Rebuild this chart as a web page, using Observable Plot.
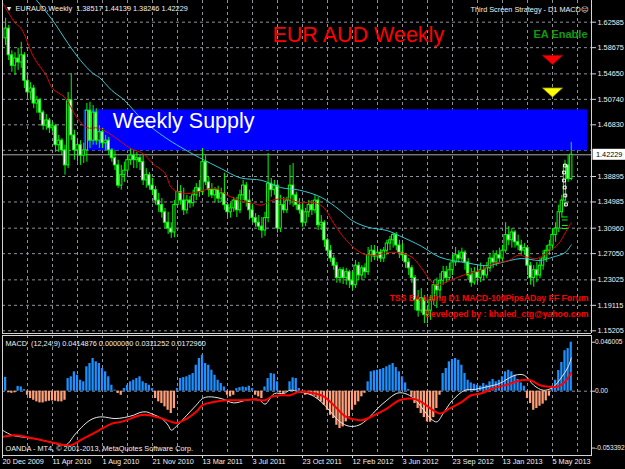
<!DOCTYPE html>
<html>
<head>
<meta charset="utf-8">
<script src="https://cdn.jsdelivr.net/npm/d3@7"></script>
<script src="https://cdn.jsdelivr.net/npm/@observablehq/plot@0.6"></script>
<style>
html,body{margin:0;padding:0;background:#000;}
#wrap{position:relative;width:625px;height:469px;background:#000;overflow:hidden;}
#wrap > svg{position:absolute;left:0;display:block;}
#wrap text{white-space:pre;}
</style>
</head>
<body>
<div id="wrap"></div>
<script>
// ---------- DATA (EURAUD weekly, bar 1 = 27 Dec 2009 ... bar 182 = 16 Jun 2013) ----------
const open = [
1.601,1.616,1.575,1.559,1.570,1.564,1.575,1.536,1.518,1.524,
1.501,1.506,1.487,1.467,1.475,1.463,1.466,1.437,1.444,1.429,
1.406,1.506,1.452,1.429,1.437,1.421,1.429,1.490,1.444,1.487,
1.444,1.457,1.440,1.444,1.429,1.417,1.406,1.375,1.391,1.398,
1.414,1.421,1.414,1.417,1.411,1.383,1.391,1.375,1.368,1.352,
1.345,1.334,1.318,1.309,1.303,1.345,1.365,1.352,1.337,1.352,
1.348,1.360,1.371,1.365,1.411,1.380,1.368,1.360,1.368,1.355,
1.363,1.345,1.334,1.340,1.352,1.337,1.360,1.375,1.352,1.337,
1.325,1.318,1.312,1.306,1.325,1.378,1.368,1.375,1.309,1.345,
1.337,1.352,1.375,1.360,1.345,1.337,1.318,1.334,1.345,1.337,
1.352,1.314,1.318,1.291,1.275,1.263,1.252,1.233,1.245,1.233,
1.242,1.229,1.222,1.252,1.237,1.248,1.242,1.268,1.275,1.266,
1.272,1.263,1.275,1.286,1.291,1.299,1.283,1.272,1.268,1.257,
1.248,1.233,1.199,1.183,1.202,1.176,1.183,1.199,1.222,1.214,
1.229,1.242,1.233,1.245,1.257,1.268,1.263,1.272,1.257,1.237,
1.226,1.242,1.233,1.245,1.237,1.248,1.263,1.257,1.268,1.263,
1.275,1.299,1.291,1.303,1.288,1.283,1.275,1.279,1.252,1.233,
1.245,1.237,1.252,1.263,1.275,1.283,1.299,1.309,1.334,1.352,
1.406,1.38517];
const high = [
1.632,1.621,1.582,1.579,1.586,1.595,1.579,1.544,1.533,1.529,
1.512,1.509,1.490,1.484,1.478,1.472,1.469,1.452,1.447,1.437,
1.518,1.547,1.460,1.444,1.444,1.440,1.501,1.503,1.498,1.493,
1.467,1.463,1.452,1.449,1.432,1.429,1.414,1.406,1.411,1.421,
1.432,1.429,1.426,1.421,1.421,1.401,1.395,1.386,1.374,1.363,
1.355,1.340,1.334,1.318,1.352,1.378,1.375,1.371,1.360,1.358,
1.368,1.378,1.383,1.432,1.421,1.388,1.378,1.372,1.374,1.371,
1.394,1.349,1.348,1.357,1.357,1.368,1.383,1.380,1.368,1.345,
1.332,1.329,1.326,1.334,1.424,1.386,1.383,1.378,1.360,1.357,
1.357,1.406,1.409,1.365,1.355,1.348,1.340,1.352,1.352,1.360,
1.357,1.329,1.321,1.294,1.283,1.268,1.257,1.249,1.249,1.248,
1.245,1.242,1.260,1.257,1.252,1.255,1.280,1.283,1.283,1.280,
1.277,1.280,1.291,1.297,1.302,1.303,1.291,1.286,1.271,1.263,
1.252,1.237,1.214,1.217,1.206,1.191,1.206,1.229,1.233,1.240,
1.251,1.251,1.256,1.268,1.280,1.275,1.279,1.275,1.263,1.248,
1.249,1.251,1.256,1.252,1.257,1.271,1.275,1.275,1.279,1.283,
1.318,1.312,1.309,1.306,1.299,1.291,1.286,1.283,1.257,1.252,
1.257,1.263,1.275,1.283,1.291,1.309,1.318,1.345,1.360,1.414,
1.421,1.44139];
const low = [
1.590,1.567,1.549,1.544,1.552,1.555,1.524,1.510,1.506,1.493,
1.486,1.475,1.460,1.460,1.455,1.457,1.426,1.426,1.421,1.391,
1.401,1.444,1.414,1.411,1.406,1.409,1.411,1.432,1.437,1.437,
1.432,1.432,1.429,1.421,1.411,1.398,1.371,1.368,1.380,1.391,
1.406,1.401,1.401,1.398,1.375,1.371,1.368,1.360,1.345,1.334,
1.325,1.309,1.300,1.294,1.295,1.340,1.345,1.329,1.331,1.340,
1.342,1.352,1.357,1.360,1.375,1.357,1.355,1.348,1.348,1.349,
1.337,1.325,1.325,1.334,1.326,1.332,1.352,1.342,1.322,1.318,
1.311,1.306,1.294,1.297,1.318,1.357,1.360,1.302,1.303,1.332,
1.332,1.345,1.342,1.337,1.331,1.311,1.312,1.326,1.329,1.332,
1.306,1.306,1.280,1.266,1.257,1.245,1.225,1.225,1.223,1.222,
1.217,1.214,1.217,1.229,1.229,1.232,1.237,1.257,1.260,1.260,
1.257,1.257,1.268,1.275,1.279,1.275,1.263,1.260,1.248,1.237,
1.225,1.183,1.173,1.179,1.163,1.163,1.168,1.191,1.186,1.202,
1.222,1.225,1.229,1.237,1.251,1.256,1.257,1.245,1.229,1.219,
1.222,1.226,1.226,1.229,1.232,1.242,1.248,1.251,1.256,1.257,
1.271,1.283,1.279,1.279,1.275,1.268,1.268,1.237,1.222,1.219,
1.226,1.232,1.245,1.257,1.268,1.275,1.288,1.303,1.325,1.342,
1.380,1.38246];
const close = [
1.616,1.575,1.559,1.570,1.564,1.575,1.536,1.518,1.524,1.501,
1.506,1.487,1.467,1.475,1.463,1.466,1.437,1.444,1.429,1.406,
1.506,1.452,1.429,1.437,1.421,1.429,1.490,1.444,1.487,1.444,
1.457,1.440,1.444,1.429,1.417,1.406,1.375,1.391,1.398,1.414,
1.421,1.414,1.417,1.411,1.383,1.391,1.375,1.368,1.352,1.345,
1.334,1.318,1.309,1.303,1.345,1.365,1.352,1.337,1.352,1.348,
1.360,1.371,1.365,1.411,1.380,1.368,1.360,1.368,1.355,1.363,
1.345,1.334,1.340,1.352,1.337,1.360,1.375,1.352,1.337,1.325,
1.318,1.312,1.306,1.325,1.378,1.368,1.375,1.309,1.345,1.337,
1.352,1.375,1.360,1.345,1.337,1.318,1.334,1.345,1.337,1.352,
1.314,1.318,1.291,1.275,1.263,1.252,1.233,1.245,1.233,1.242,
1.229,1.222,1.252,1.237,1.248,1.242,1.268,1.275,1.266,1.272,
1.263,1.275,1.286,1.291,1.299,1.283,1.272,1.268,1.257,1.248,
1.233,1.199,1.183,1.202,1.176,1.183,1.199,1.222,1.214,1.229,
1.242,1.233,1.245,1.257,1.268,1.263,1.272,1.257,1.237,1.226,
1.242,1.233,1.245,1.237,1.248,1.263,1.257,1.268,1.263,1.275,
1.299,1.291,1.303,1.288,1.283,1.275,1.279,1.252,1.233,1.245,
1.237,1.252,1.263,1.275,1.283,1.299,1.309,1.334,1.352,1.406,
1.385,1.42229];

// moving averages: [bar, price]
const maFast = [[0,1.656],[4,1.625],[6,1.616],[10,1.572],[14,1.544],[16,1.524],[20,1.510],[24,1.478],[27,1.464],[31,1.463],[36,1.449],[41,1.432],[45,1.424],[48,1.409],[52,1.394],[54,1.372],[57,1.364],[60,1.363],[63,1.366],[68,1.371],[72,1.360],[76,1.352],[80,1.348],[83,1.345],[86,1.352],[91,1.355],[95,1.349],[100,1.349],[103,1.340],[106,1.317],[110,1.291],[115,1.271],[119,1.268],[123,1.272],[127,1.272],[131,1.265],[134,1.249],[137,1.229],[139,1.222],[143,1.229],[149,1.240],[153,1.245],[157,1.255],[162,1.260],[165,1.268],[168,1.265],[171,1.263],[174,1.271],[178,1.286],[180,1.302],[182,1.318]];
const maSlow = [[1,1.720],[11,1.659],[16,1.629],[21,1.593],[25,1.567],[29,1.547],[31,1.541],[35,1.521],[39,1.506],[45,1.475],[52,1.449],[57,1.434],[63,1.418],[70,1.401],[76,1.387],[83,1.383],[89,1.372],[95,1.368],[102,1.357],[108,1.337],[112,1.321],[117,1.311],[123,1.306],[127,1.298],[134,1.282],[140,1.265],[149,1.256],[155,1.252],[159,1.256],[166,1.263],[172,1.260],[176,1.265],[180,1.272],[182,1.284]];

// MACD histogram per bar (bar 1..182)
const macdHist = [
0.013,-0.0015,-0.002,-0.0015,0.0045,0.004,0.0015,-0.0038,-0.0069,-0.0085,
-0.010,-0.011,-0.011,-0.010,-0.0094,-0.0091,-0.0094,-0.010,-0.010,-0.0085,
0.0119,0.0135,0.0182,0.015,0.0103,0.0088,0.0229,0.026,0.0307,0.0276,
0.026,0.0213,0.0182,0.0135,0.0056,0.001,-0.0022,-0.0038,0.0025,0.0056,
0.0088,0.0103,0.0119,0.0135,0.0088,0.0072,0.0056,0.0025,-0.0069,-0.010,
-0.0116,-0.0147,-0.0179,-0.021,-0.0163,0.0025,0.0119,0.0128,0.0135,0.015,
0.0166,0.0244,0.0307,0.0338,0.026,0.0244,0.0197,0.015,0.0103,0.0072,
0.004,-0.0038,-0.0053,-0.0038,0.0025,0.0034,0.004,0.0034,0.0047,0.0025,
-0.0038,-0.0053,-0.0069,0.004,0.0119,0.0166,0.016,0.0088,-0.0016,-0.0022,
-0.0006,0.0088,0.0125,0.0119,0.0025,-0.0022,-0.0038,-0.0028,-0.0038,-0.0047,
-0.0075,-0.010,-0.0132,-0.0179,-0.0226,-0.0257,-0.032,-0.0351,-0.0335,-0.0288,
-0.0241,-0.0179,-0.0132,-0.010,-0.0053,-0.002,0.0088,0.0182,0.0191,0.0197,
0.0204,0.0213,0.0229,0.0244,0.026,0.0222,0.0182,0.0135,0.0078,0.0016,
-0.0053,-0.0116,-0.0163,-0.021,-0.0248,-0.0288,-0.0291,-0.0248,-0.0163,-0.0038,
0.0166,0.0213,0.0276,0.0298,0.0307,0.0291,0.0244,0.0166,0.0103,0.0078,
0.0066,0.0056,0.0047,0.0072,0.0056,0.0088,0.011,0.0088,0.0103,0.0135,
0.0182,0.0197,0.0182,0.015,0.011,0.0078,0.0047,-0.0069,-0.0116,-0.0179,
-0.0163,-0.0141,-0.0122,-0.0091,-0.0047,0.0047,0.0103,0.0194,0.027,0.038,
0.040,0.046];
const macdMain = [[0,-0.0366],[3,-0.0413],[6,-0.0429],[10,-0.0444],[15,-0.0476],[20,-0.0507],[21,-0.0491],[23,-0.0413],[26,-0.0319],[28,-0.0272],[30,-0.0247],[32,-0.0241],[36,-0.0257],[39,-0.0247],[42,-0.0225],[44,-0.020],[46,-0.0194],[48,-0.0216],[51,-0.0257],[53,-0.0319],[54,-0.0366],[56,-0.0319],[59,-0.0225],[62,-0.0131],[64,-0.0069],[66,-0.0053],[70,-0.0069],[74,-0.011],[78,-0.0085],[82,-0.0078],[84,-0.0122],[87,-0.0022],[90,-0.0022],[92,0.0009],[95,-0.0006],[99,-0.0038],[102,-0.010],[105,-0.0194],[108,-0.0288],[111,-0.0329],[114,-0.0319],[117,-0.0257],[120,-0.0163],[123,-0.0085],[126,-0.0022],[128,-0.0016],[131,-0.0053],[134,-0.0147],[137,-0.0257],[139,-0.0288],[141,-0.021],[144,-0.0085],[148,0.0009],[151,0.0016],[155,0.0041],[159,0.0072],[164,0.015],[167,0.015],[170,0.0056],[173,0.0009],[176,0.0034],[179,0.0135],[181,0.0228],[182,0.0311]];
const macdSignal = [[0,-0.0429],[4,-0.0413],[10,-0.0444],[15,-0.0476],[20,-0.0507],[22,-0.0507],[25,-0.046],[28,-0.0413],[31,-0.0366],[35,-0.0304],[38,-0.0288],[41,-0.0257],[44,-0.0225],[47,-0.0225],[51,-0.0257],[54,-0.0288],[56,-0.0297],[59,-0.0257],[62,-0.0194],[64,-0.0131],[68,-0.010],[72,-0.0085],[76,-0.0085],[80,-0.0078],[84,-0.0085],[86,-0.0053],[89,-0.0038],[92,-0.0038],[95,-0.0006],[100,-0.0022],[103,-0.0053],[106,-0.0131],[110,-0.0241],[115,-0.0272],[119,-0.0225],[123,-0.0163],[127,-0.0085],[131,-0.0069],[134,-0.010],[137,-0.0163],[140,-0.021],[143,-0.0163],[147,-0.010],[150,-0.0038],[153,-0.0022],[157,0.0025],[162,0.0066],[166,0.0103],[169,0.0103],[172,0.0056],[175,0.0041],[178,0.0047],[180,0.0088],[182,0.0173]];

// axes / ticks
const dateTickBars = [0,16,32,48,64,80,96,112,128,144,160,176];
const dateTickLabels = ["20 Dec 2009","11 Apr 2010","1 Aug 2010","21 Nov 2010","13 Mar 2011","3 Jul 2011","23 Oct 2011","12 Feb 2012","3 Jun 2012","23 Sep 2012","13 Jan 2013","5 May 2013"];
const gridBars = [0,8,16,24,32,40,48,56,64,72,80,88,96,104,112,120,128,136,144,152,160,168,176,184];
const priceTicks = [1.62585,1.58675,1.54650,1.50740,1.46830,1.38895,1.34985,1.30960,1.27050,1.23025,1.19115,1.15205];
const priceGrid = [1.62585,1.58675,1.54650,1.50740,1.46830,1.42920,1.38895,1.34985,1.30960,1.27050,1.23025,1.19115,1.15205];
const macdTicks = [0.046005, 0, -0.053392];
const macdTickLabels = ["0.046005","0.00","-0.053392"];
const lastClose = 1.42229;

// chart objects
const supplyZone = {label: "Weekly Supply", from: 26, to: 187.2, top: 1.4913, bottom: 1.4284};
const eaSignals = [{i: 176, p: 1.5680, fill: "#ff0000", edge: "#b00000"}, {i: 176, p: 1.5179, fill: "#ffff00", edge: "#9a9a00"}];
const eaDashes = [{i: 180.1, p: 1.3268}, {i: 180.1, p: 1.3222}, {i: 180.1, p: 1.3137}, {i: 180.1, p: 1.3091}];
const eaBoxes = [{i: 180, p: 1.4058}, {i: 179.7, p: 1.3951}, {i: 179.7, p: 1.3828}, {i: 179.9, p: 1.3721}, {i: 180.1, p: 1.3598}, {i: 180.3, p: 1.3460}];

// texts
const headerText = "EURAUD,Weekly  1.38517 1.44139 1.38246 1.42229";
const eaNameText = "Third Screen Strategy - D1 MACD\u2639";
const titleText = "EUR AUD Weekly";
const eaStatusText = "EA Enable";
const credit1 = "TSS EA using D1 MACD-100PipsADay FF Forum";
const credit2 = "Developed by : khaled_ctg@yahoo.com";
const macdHeader = "MACD  (12,24,9) 0.0414876 0.0000000 0.0311252 0.0172960";
const footerText = "OANDA - MT4, \u00a9 2001-2013, MetaQuotes Software Corp.";

// ---------- RENDER ----------
const FONT = "'Liberation Sans', Arial, 'DejaVu Sans', sans-serif";
const GRID = "#8c939b";
const FRAME = "#d4d4d4";
const TXT = "#f0f0f0";
const SMALL = 7.3;
const xDomain = [0, 188.48];
const priceDomain = [1.14791, 1.65917];
const macdDomain = [-0.06037, 0.05230];

const bars = close.map((c, k) => ({i: k + 1, open: open[k], high: high[k], low: low[k], close: c}));
const hist = macdHist.map((v, k) => ({i: k + 1, v}));
const half = 0.37;
const flatDown = {draw(ctx) { ctx.moveTo(-10, -4.5); ctx.lineTo(10, -4.5); ctx.lineTo(0, 4.5); ctx.closePath(); }};
const styleObj = {background: "transparent", color: TXT, fontFamily: FONT, fontSize: SMALL + "px"};

const main = Plot.plot({
  width: 625, height: 334,
  marginLeft: 2, marginRight: 34, marginTop: 0, marginBottom: 1,
  style: styleObj,
  x: {domain: xDomain, axis: null},
  y: {domain: priceDomain},
  marks: [
    Plot.gridX(gridBars, {stroke: GRID, strokeOpacity: 1, strokeDasharray: "3,3"}),
    Plot.gridY(priceGrid, {stroke: GRID, strokeOpacity: 1, strokeDasharray: "3,3"}),
    Plot.rect([supplyZone], {x1: "from", x2: "to", y1: "bottom", y2: "top", fill: "#0000ff"}),
    Plot.ruleY([lastClose], {stroke: "#a8a8a8"}),
    Plot.ruleX(bars, {x: "i", y1: "low", y2: "high", stroke: "#00ff00", strokeWidth: 1}),
    Plot.rect(bars, {x1: d => d.i - half, x2: d => d.i + half, y1: "open", y2: "close",
      fill: d => d.close >= d.open ? "#000000" : "#ffffff", stroke: "#00ff00", strokeWidth: 1}),
    Plot.line(maSlow, {x: d => d[0], y: d => d[1], stroke: "#36c8d2", strokeWidth: 1, curve: "catmull-rom", clip: true}),
    Plot.line(maFast, {x: d => d[0], y: d => d[1], stroke: "#e00000", strokeWidth: 1, curve: "catmull-rom", clip: true}),
    Plot.ruleY(eaDashes, {y: "p", x1: d => d.i - 0.9, x2: d => d.i + 0.9, stroke: "#00ff00"}),
    Plot.dot(eaBoxes, {x: "i", y: "p", symbol: "square", r: 1.6, stroke: "#ffffff", fill: "none", strokeWidth: 1}),
    Plot.dot([eaSignals[0]], {x: "i", y: "p", symbol: flatDown, fill: eaSignals[0].fill, stroke: eaSignals[0].edge, strokeWidth: 0.8}),
    Plot.dot([eaSignals[1]], {x: "i", y: "p", symbol: flatDown, fill: eaSignals[1].fill, stroke: eaSignals[1].edge, strokeWidth: 0.8}),
    Plot.text([supplyZone], {x: "from", y: "top", text: "label", dx: 29, dy: 18, lineAnchor: "bottom", textAnchor: "start", fill: "#ffffff", fontSize: 21.5}),
    Plot.text(["\u25bc"], {text: d => d, frameAnchor: "top-left", dx: 3, dy: 10.5, lineAnchor: "bottom", textAnchor: "start", fill: TXT, fontSize: 7}),
    Plot.text([headerText], {text: d => d, frameAnchor: "top-left", dx: 13, dy: 10.7, lineAnchor: "bottom", textAnchor: "start", fill: TXT, fontSize: SMALL}),
    Plot.text([eaNameText], {text: d => d, frameAnchor: "top-right", dx: -3, dy: 11.5, lineAnchor: "bottom", textAnchor: "end", fill: TXT, fontSize: SMALL}),
    Plot.text([titleText], {text: d => d, frameAnchor: "top-left", dx: 270, dy: 41.5, lineAnchor: "bottom", textAnchor: "start", fill: "#ff0000", fontSize: 21.5}),
    Plot.text([eaStatusText], {text: d => d, frameAnchor: "top-right", dx: -4, dy: 37, lineAnchor: "bottom", textAnchor: "end", fill: "#109a10", fontSize: 11, fontWeight: "bold"}),
    Plot.text([credit1], {text: d => d, frameAnchor: "top-right", dx: -3, dy: 300.5, lineAnchor: "bottom", textAnchor: "end", fill: "#ff0000", fontSize: 8.7, fontWeight: "bold"}),
    Plot.text([credit2], {text: d => d, frameAnchor: "top-right", dx: -3, dy: 316.7, lineAnchor: "bottom", textAnchor: "end", fill: "#ff0000", fontSize: 8.7, fontWeight: "bold"}),
    Plot.axisY({anchor: "right", ticks: priceTicks, tickFormat: d => d.toFixed(5), tickSize: 4, tickPadding: 2, label: null, stroke: FRAME, fill: TXT, fontSize: SMALL}),
    Plot.ruleX(xDomain, {stroke: FRAME}),
    Plot.ruleY([priceDomain[0]], {stroke: FRAME})
  ]
});

const macd = Plot.plot({
  width: 625, height: 135,
  marginLeft: 2, marginRight: 34, marginTop: 1, marginBottom: 14,
  style: styleObj,
  x: {domain: xDomain},
  y: {domain: macdDomain},
  marks: [
    Plot.gridX(gridBars, {stroke: GRID, strokeOpacity: 1, strokeDasharray: "3,3"}),
    Plot.gridY([0], {stroke: GRID, strokeOpacity: 1, strokeDasharray: "3,3"}),
    Plot.rect(hist, {x1: d => d.i - 0.36, x2: d => d.i + 0.36, y1: 0, y2: "v", fill: d => d.v >= 0 ? "#1e90ff" : "#ffa07a"}),
    Plot.line(macdMain, {x: d => d[0], y: d => d[1], stroke: "#e6e6e6", strokeWidth: 1, curve: "catmull-rom", clip: true}),
    Plot.line(macdSignal, {x: d => d[0], y: d => d[1], stroke: "#ff0000", strokeWidth: 2, curve: "catmull-rom", clip: true}),
    Plot.text([macdHeader], {text: d => d, frameAnchor: "top-left", dx: 3, dy: 10, lineAnchor: "bottom", textAnchor: "start", fill: TXT, fontSize: SMALL}),
    Plot.text([footerText], {text: d => d, frameAnchor: "bottom-left", dx: 3, dy: -4.3, lineAnchor: "bottom", textAnchor: "start", fill: TXT, fontSize: SMALL}),
    Plot.frame({stroke: FRAME}),
    Plot.axisY({anchor: "right", ticks: macdTicks, tickFormat: d => macdTickLabels[macdTicks.indexOf(d)], tickSize: 3, tickPadding: 0.5, label: null, stroke: FRAME, fill: TXT, fontSize: 6.6, letterSpacing: -0.3}),
    Plot.axisX({anchor: "bottom", ticks: dateTickBars, tickFormat: d => dateTickLabels[dateTickBars.indexOf(d)], tickSize: 3, tickPadding: 0.5, textAnchor: "start", label: null, stroke: FRAME, fill: TXT, fontSize: SMALL})
  ]
});

main.style.top = "0px";
macd.style.top = "334px";
const wrap = document.getElementById("wrap");
wrap.appendChild(main);
wrap.appendChild(macd);

// current-price label box on the price axis
const yy = main.scale("y").apply(lastClose);
const axisLeft = 625 - 34;
const sel = d3.select(main);
sel.append("rect").attr("x", axisLeft + 1.5).attr("y", yy - 5.5).attr("width", 40).attr("height", 11).attr("fill", "#ffffff");
sel.append("text").attr("x", axisLeft + 5).attr("y", yy).attr("dy", "0.32em").attr("fill", "#000000")
  .attr("text-anchor", "start").attr("font-size", SMALL).attr("font-family", FONT).text(lastClose.toFixed(5));
</script>
</body>
</html>
